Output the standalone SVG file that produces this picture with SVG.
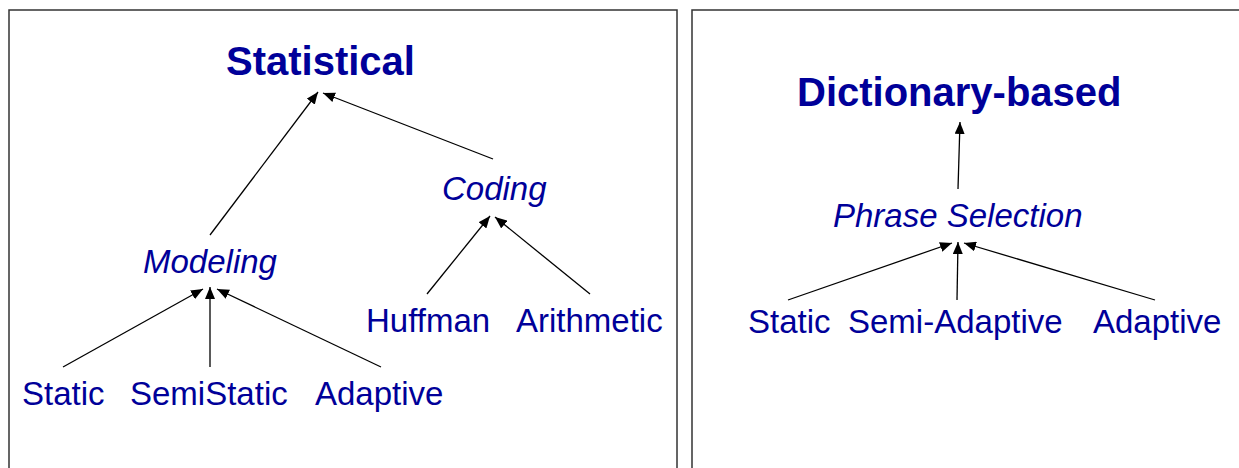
<svg xmlns="http://www.w3.org/2000/svg" width="1239" height="468" viewBox="0 0 1239 468">
<style>
.frame{fill:#fff;stroke:#333;stroke-width:1.5}
.t{font-family:"Liberation Sans",Arial,sans-serif;fill:#000099}
.b{font-weight:bold;font-size:40px}
.i{font-style:italic;font-size:33px}
.r{font-size:33px}
.c{stroke:#000;stroke-width:1.3;fill:none;marker-end:url(#ah)}
</style>
<defs>
<marker id="ah" markerUnits="userSpaceOnUse" markerWidth="13" markerHeight="10" refX="12" refY="5" orient="auto">
<path d="M0,0 L12,5 L0,10 Z" fill="#000"/>
</marker>
</defs>
<rect width="1239" height="468" fill="#fff"/>
<rect id="panel-left" class="frame" x="9" y="10" width="668" height="470"/>
<rect id="panel-right" class="frame" x="692" y="10" width="560" height="470"/>
<g id="connectors">
<line class="c" x1="210" y1="235" x2="318" y2="92"/>
<line class="c" x1="493" y1="159" x2="323" y2="93"/>
<line class="c" x1="427" y1="294" x2="490" y2="216"/>
<line class="c" x1="590" y1="294" x2="495" y2="217"/>
<line class="c" x1="63" y1="367" x2="203" y2="289"/>
<line class="c" x1="210" y1="367" x2="210" y2="287"/>
<line class="c" x1="381" y1="367" x2="217" y2="289"/>
<line class="c" x1="958" y1="189" x2="960" y2="122"/>
<line class="c" x1="788" y1="300" x2="952" y2="243"/>
<line class="c" x1="957" y1="300" x2="958" y2="242"/>
<line class="c" x1="1155" y1="300" x2="964" y2="243"/>
</g>
<g id="statistical"><text class="t b" x="226" y="75">Statistical</text></g>
<g id="coding"><text class="t i" x="442" y="200">Coding</text></g>
<g id="modeling"><text class="t i" x="143" y="273">Modeling</text></g>
<g id="huffman"><text class="t r" x="366" y="332">Huffman</text></g>
<g id="arithmetic"><text class="t r" x="516" y="332">Arithmetic</text></g>
<g id="static-l"><text class="t r" x="22" y="405">Static</text></g>
<g id="semistatic"><text class="t r" x="130" y="405">SemiStatic</text></g>
<g id="adaptive-l"><text class="t r" x="315" y="405">Adaptive</text></g>
<g id="dictionary"><text class="t b" x="797" y="106">Dictionary-based</text></g>
<g id="phrase"><text class="t i" x="833" y="227">Phrase Selection</text></g>
<g id="static-r"><text class="t r" x="748" y="333">Static</text></g>
<g id="semiadaptive"><text class="t r" x="848" y="333">Semi-Adaptive</text></g>
<g id="adaptive-r"><text class="t r" x="1093" y="333">Adaptive</text></g>
</svg>
